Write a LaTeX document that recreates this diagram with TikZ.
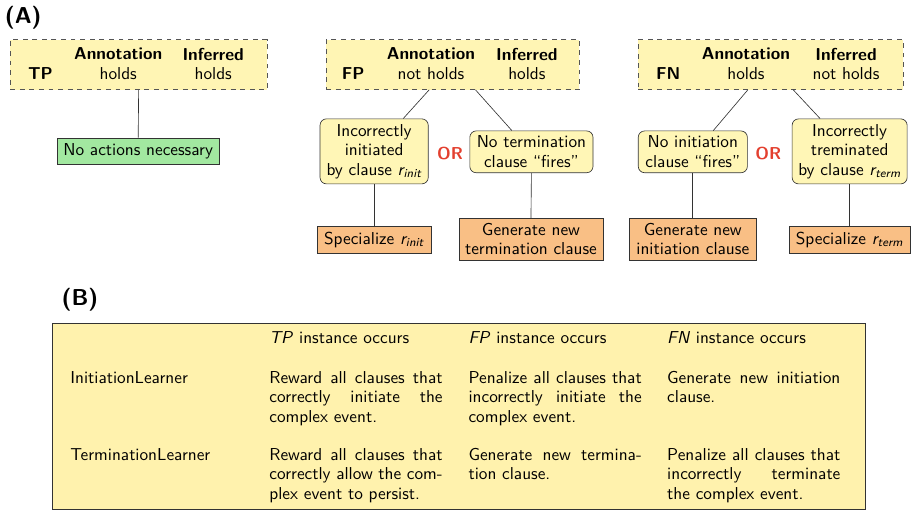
\documentclass[tikz,border=0pt]{standalone}
\usepackage{xcolor}
\usepackage{tikz}
\renewcommand{\familydefault}{\sfdefault}
\definecolor{EVCase}{HTML}{FFF5B4}
\definecolor{EVCond}{HTML}{FFF6B6}
\definecolor{EVOk}{HTML}{A2E8A0}
\definecolor{EVAct}{HTML}{F9BF85}
\definecolor{EVTable}{HTML}{FFF2AD}
\definecolor{EVRed}{HTML}{E3402F}
\definecolor{EVEdge}{HTML}{333333}
\definecolor{EVDash}{HTML}{555555}
\definecolor{EVLine}{HTML}{333333}

\begin{document}
\fontsize{10.8pt}{12.2pt}\selectfont
\begin{tikzpicture}[x=1cm,y=1cm,
  casebox/.style={draw=EVDash,dashed,fill=EVCase,minimum height=1.10cm,inner sep=0pt},
  condbox/.style={draw=EVEdge,fill=EVCond,rounded corners=4pt,align=center,inner sep=2pt},
  actbox/.style={draw=EVEdge,fill=EVAct,align=center,inner sep=2pt},
  okbox/.style={draw=EVEdge,fill=EVOk,inner sep=2pt},
  ortext/.style={text=EVRed,font=\bfseries},
  cell/.style={anchor=base west,inner sep=0pt,text width=3.81cm,align=justify},
  rowlab/.style={anchor=base west,inner sep=0pt}]
\path[use as bounding box] (0,0) rectangle (20.04,11.22);
\node[font=\Large\bfseries] (panA) at (0.51,10.82) {(A)};
\node[casebox,minimum width=5.65cm] (tp) at (3.05,9.80) {};
\node[font=\bfseries] (tpk) at (0.89,9.61) {TP};
\node[font=\bfseries] (tpann) at (2.60,10.03) {Annotation};
\node (tpannv) at (2.60,9.61) {holds};
\node[font=\bfseries] (tpinf) at (4.69,10.03) {Inferred};
\node (tpinfv) at (4.69,9.61) {holds};
\node[okbox,minimum width=3.56cm,minimum height=0.59cm] (tpok) at (3.04,7.89) {No actions necessary};
\draw[EVLine] (tp.south) -- (tpok.north);
\node[casebox,minimum width=5.57cm] (fp) at (9.96,9.80) {};
\node[font=\bfseries] (fpk) at (7.77,9.61) {FP};
\node[font=\bfseries] (fpann) at (9.48,10.03) {Annotation};
\node (fpannv) at (9.48,9.61) {not holds};
\node[font=\bfseries] (fpinf) at (11.59,10.03) {Inferred};
\node (fpinfv) at (11.59,9.61) {holds};
\node[condbox,minimum width=2.38cm,minimum height=1.43cm] (fpinit) at (8.23,7.89) {Incorrectly\\initiated\\by clause \textit{r\textsubscript{init}}};
\node[ortext] (fpor) at (9.90,7.85) {OR};
\node[condbox,minimum width=2.71cm,minimum height=0.92cm] (fpterm) at (11.69,7.88) {No termination\\clause “fires”};
\node[actbox,minimum width=2.51cm,minimum height=0.59cm] (fpspec) at (8.23,5.95) {Specialize \textit{r\textsubscript{init}}};
\node[actbox,minimum width=3.17cm,minimum height=0.92cm] (fpgen) at (11.68,5.96) {Generate new\\termination clause};
\draw[EVLine] ([xshift=-0.52cm]fp.south) -- ([xshift=0.64cm]fpinit.north);
\draw[EVLine] ([xshift=0.50cm]fp.south) -- ([xshift=-0.43cm]fpterm.north);
\draw[EVLine] (fpinit.south) -- (fpspec.north);
\draw[EVLine] (fpterm.south) -- (fpgen.north);
\node[casebox,minimum width=5.83cm] (fn) at (16.95,9.80) {};
\node[font=\bfseries] (fnk) at (14.70,9.61) {FN};
\node[font=\bfseries] (fnann) at (16.41,10.03) {Annotation};
\node (fnannv) at (16.41,9.61) {holds};
\node[font=\bfseries] (fninf) at (18.61,10.03) {Inferred};
\node (fninfv) at (18.61,9.61) {not holds};
\node[condbox,minimum width=2.40cm,minimum height=0.92cm] (fninit) at (15.24,7.88) {No initiation\\clause “fires”};
\node[ortext] (fnor) at (16.90,7.85) {OR};
\node[condbox,minimum width=2.53cm,minimum height=1.43cm] (fnterm) at (18.69,7.89) {Incorrectly\\treminated\\by clause \textit{r\textsubscript{term}}};
\node[actbox,minimum width=2.79cm,minimum height=0.92cm] (fngen) at (15.24,5.96) {Generate new\\initiation clause};
\node[actbox,minimum width=2.66cm,minimum height=0.59cm] (fnspec) at (18.69,5.95) {Specialize \textit{r\textsubscript{term}}};
\draw[EVLine] ([xshift=-0.50cm]fn.south) -- ([xshift=0.45cm]fninit.north);
\draw[EVLine] ([xshift=0.50cm]fn.south) -- ([xshift=-0.65cm]fnterm.north);
\draw[EVLine] (fninit.south) -- (fngen.north);
\draw[EVLine] (fnterm.south) -- (fnspec.north);
\node[font=\Large\bfseries] (panB) at (1.76,4.62) {(B)};
\draw[EVEdge,fill=EVTable] (1.14,0.02) rectangle (19.03,4.11);
\node[cell] (hdtp) at (5.92,3.67) {\textit{TP} instance occurs};
\node[cell] (hdfp) at (10.30,3.67) {\textit{FP} instance occurs};
\node[cell] (hdfn) at (14.67,3.67) {\textit{FN} instance occurs};
\node[rowlab] (rinit) at (1.54,2.79) {InitiationLearner};
\node[cell] (itp) at (5.92,2.79) {Reward all clauses that\linebreak correctly initiate the\linebreak complex event.};
\node[cell] (ifp) at (10.30,2.79) {Penalize all clauses that\linebreak incorrectly initiate the\linebreak complex event.};
\node[cell] (ifn) at (14.67,2.79) {Generate new initiation\linebreak clause.};
\node[rowlab] (rterm) at (1.54,1.09) {TerminationLearner};
\node[cell] (ttp) at (5.92,1.09) {Reward all clauses that\linebreak correctly allow the com-\linebreak plex event to persist.};
\node[cell] (tfp) at (10.30,1.09) {Generate new termina-\linebreak tion clause.};
\node[cell] (tfn) at (14.67,1.09) {Penalize all clauses that\linebreak incorrectly terminate\linebreak the complex event.};
\end{tikzpicture}
\end{document}
